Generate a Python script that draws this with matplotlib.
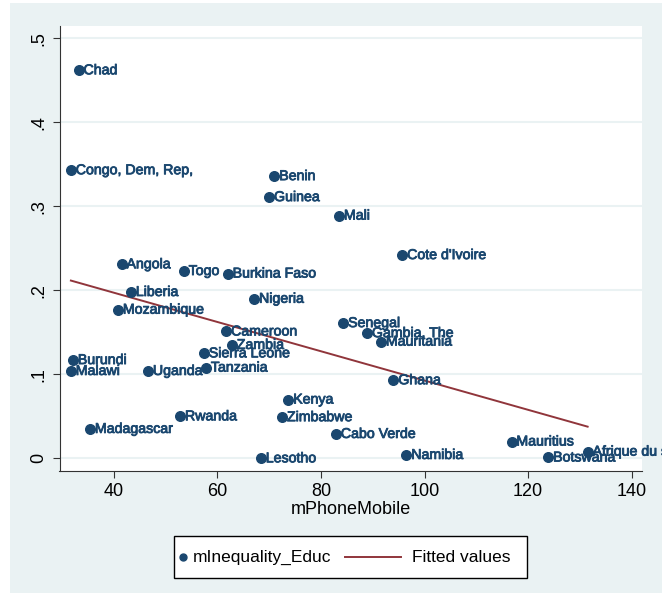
import numpy as np
import matplotlib.pyplot as plt
import matplotlib.patheffects as pe
from matplotlib.patches import Rectangle
from matplotlib.lines import Line2D
from matplotlib.transforms import Bbox, TransformedBbox

# data
countries = ["Chad", "Congo, Dem, Rep,", "Benin", "Guinea", "Mali", "Cote d'Ivoire",
             "Angola", "Togo", "Burkina Faso", "Liberia", "Nigeria", "Mozambique",
             "Senegal", "Gambia, The", "Mauritania", "Cameroon", "Zambia", "Sierra Leone",
             "Burundi", "Tanzania", "Uganda", "Malawi", "Ghana", "Kenya", "Zimbabwe",
             "Rwanda", "Madagascar", "Cabo Verde", "Mauritius", "Namibia", "Lesotho",
             "Botswana", "Afrique du sud"]
phone = [33.2, 31.7, 71.0, 70.0, 83.5, 95.7,
         41.5, 53.5, 62.0, 43.3, 67.1, 40.8,
         84.3, 88.9, 91.6, 61.7, 62.8, 57.4,
         32.1, 57.8, 46.6, 31.7, 94.0, 73.7, 72.5,
         52.8, 35.4, 82.9, 116.8, 96.5, 68.4,
         123.9, 131.5]
ineq = [0.462, 0.343, 0.336, 0.311, 0.289, 0.242,
        0.231, 0.223, 0.220, 0.198, 0.190, 0.177,
        0.161, 0.149, 0.139, 0.151, 0.135, 0.125,
        0.117, 0.108, 0.104, 0.104, 0.093, 0.070, 0.049,
        0.050, 0.035, 0.029, 0.020, 0.004, 0.000,
        0.001, 0.008]
xticks = [40, 60, 80, 100, 120, 140]
yticks = [0, 0.1, 0.2, 0.3, 0.4, 0.5]
ytick_labels = ["0", ".1", ".2", ".3", ".4", ".5"]

navy = "#1a476f"
maroon = "#90353b"
bg = "#eaf2f3"

plt.rcParams['font.family'] = ['Liberation Sans', 'DejaVu Sans']

W, H = 672, 596
def fx(px):
    return px / W
def fy(py):
    return 1 - py / H

fig = plt.figure(figsize=(6.72, 5.96), dpi=100)
fig.patches.append(Rectangle((fx(10), fy(593)), fx(662) - fx(10), fy(3) - fy(593),
                             transform=fig.transFigure, facecolor=bg,
                             edgecolor="none", zorder=-10))

ax = fig.add_axes([fx(59.5), fy(471), fx(642) - fx(59.5), fy(26) - fy(471)])
ax.set_facecolor("white")

# fitted line from OLS
x = np.array(phone)
y = np.array(ineq)
b, a = np.polyfit(x, y, 1)
xs = np.array([x.min(), x.max()])

ax.scatter(x, y, s=48, color=navy, zorder=3)
ax.plot(xs, a + b * xs, color=maroon, lw=1.4, zorder=2)

# point labels, slightly heavier than regular weight
clip = TransformedBbox(Bbox([[0, 0], [fx(662), 1]]), fig.transFigure)
thick = [pe.withStroke(linewidth=0.6, foreground=navy)]
for name, xi, yi in zip(countries, phone, ineq):
    t = ax.annotate(name, (xi, yi), xytext=(3.5, 0), textcoords="offset points",
                    ha="left", va="center", color=navy, fontsize=10.2,
                    annotation_clip=False, path_effects=thick)
    t.set_clip_box(clip)
    t.set_clip_on(True)

ax.set_xlim(29.5, 142)
ax.set_ylim(-0.0151, 0.5147)
ax.set_xticks(xticks)
ax.set_yticks(yticks)
ax.set_yticklabels(ytick_labels, rotation=90, va="center")
ax.tick_params(labelsize=13, length=5, color="#333333")
ax.grid(axis="y", color=bg, lw=1.5)
ax.set_axisbelow(True)
for s in ["top", "right"]:
    ax.spines[s].set_visible(False)
ax.spines["left"].set_color("#333333")
ax.spines["bottom"].set_color("#333333")
ax.set_xlabel("mPhoneMobile", fontsize=13, labelpad=1)

# legend box drawn by hand (Stata style)
fig.patches.append(Rectangle((fx(174), fy(578)), fx(527) - fx(174), fy(536) - fy(578),
                             transform=fig.transFigure, facecolor="white",
                             edgecolor="black", lw=1))
ly = fy(557)
fig.add_artist(Line2D([fx(183)], [ly], marker="o", markersize=5, color=navy,
                      transform=fig.transFigure))
fig.text(fx(193), ly, "mInequality_Educ", fontsize=12.5, va="center", ha="left")
fig.add_artist(Line2D([fx(345), fx(401)], [ly, ly], color=maroon, lw=1.4,
                      transform=fig.transFigure))
fig.text(fx(412), ly, "Fitted values", fontsize=12.5, va="center", ha="left")

fig.savefig("out.png", dpi=100)
